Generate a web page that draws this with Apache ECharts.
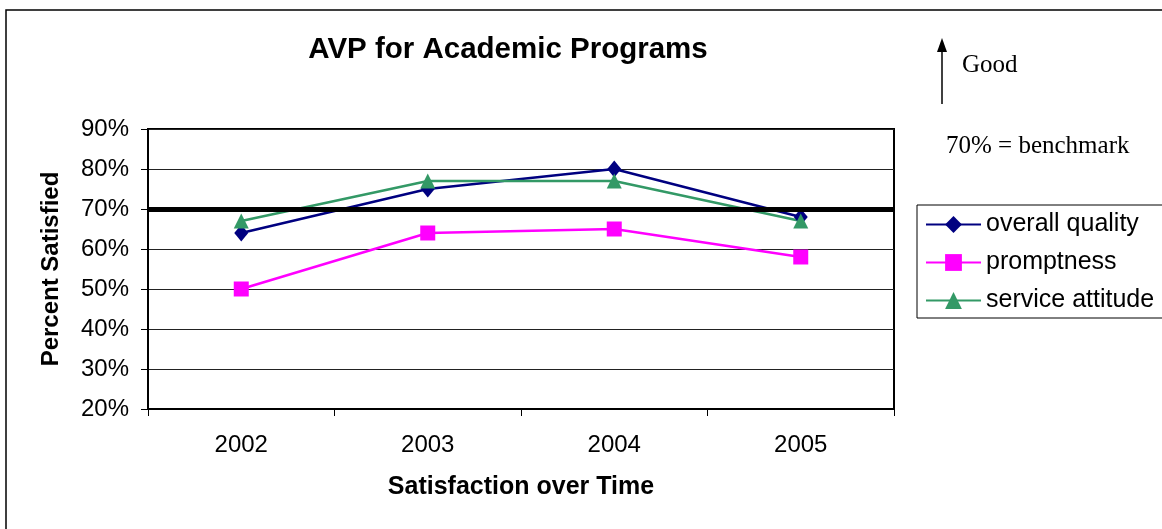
<!DOCTYPE html>
<html>
<head>
<meta charset="utf-8">
<script src="https://cdn.jsdelivr.net/npm/echarts@6/dist/echarts.min.js"></script>
<style>
  html, body { margin: 0; padding: 0; background: #fff; }
  #main { width: 1162px; height: 529px; }
</style>
</head>
<body>
<div id="main"></div>
<script>
// data
const years = ["2002", "2003", "2004", "2005"];
const overallQuality = [64, 75, 80, 68];
const promptness = [50, 64, 65, 58];
const serviceAttitude = [67, 77, 77, 67];
const benchmark = 70;

const chart = echarts.init(document.getElementById("main"));

const sans = "Arial, Liberation Sans";
const serif = "'Liberation Serif', 'Times New Roman', serif";

const option = {
  animation: false,
  backgroundColor: "#fff",
  title: {
    text: "AVP for Academic Programs",
    left: 503,
    top: 30,
    textAlign: "center",
    textStyle: { fontFamily: sans, fontSize: 29.5, fontWeight: "bold", color: "#000" },
  },
  legend: {
    orient: "vertical",
    left: 917,
    top: 205,
    padding: [7, 40, 5, 8],
    itemGap: 13,
    itemWidth: 55,
    itemHeight: 21,
    borderColor: "#000",
    borderWidth: 1,
    textStyle: { fontFamily: sans, fontSize: 25, color: "#000" },
    data: ["overall quality", "promptness", "service attitude"],
  },
  grid: {
    left: 148,
    right: 1162 - 894,
    top: 129,
    bottom: 529 - 409,
    show: true,
    borderColor: "#000",
    borderWidth: 2,
  },
  xAxis: {
    type: "category",
    data: years,
    boundaryGap: true,
    name: "Satisfaction over Time",
    nameLocation: "middle",
    nameGap: 66,
    nameTextStyle: { fontFamily: sans, fontSize: 25, fontWeight: "bold", color: "#000" },
    axisLine: { lineStyle: { color: "#000", width: 2 } },
    axisTick: { show: true, length: 7, lineStyle: { color: "#000" } },
    axisLabel: { fontFamily: sans, fontSize: 24, color: "#000", margin: 24 },
  },
  yAxis: {
    type: "value",
    min: 20,
    max: 90,
    interval: 10,
    name: "Percent Satisfied",
    nameLocation: "middle",
    nameGap: 85,
    nameTextStyle: { fontFamily: sans, fontSize: 24, fontWeight: "bold", color: "#000" },
    axisLine: { show: true, lineStyle: { color: "#000", width: 2 } },
    axisTick: { show: true, length: 7, lineStyle: { color: "#000" } },
    axisLabel: { formatter: "{value}%", fontFamily: sans, fontSize: 24, color: "#000", margin: 19 },
    splitLine: { show: true, lineStyle: { color: "#222", width: 1 } },
  },
  series: [
    {
      name: "overall quality",
      type: "line",
      data: overallQuality,
      symbol: "diamond",
      symbolSize: [14, 17],
      color: "#000080",
      lineStyle: { width: 2.5, color: "#000080" },
      z: 3,
      markLine: {
        silent: true,
        symbol: "none",
        label: { show: false },
        lineStyle: { color: "#000", width: 5, type: "solid" },
        data: [{ yAxis: benchmark }],
      },
    },
    {
      name: "promptness",
      type: "line",
      data: promptness,
      symbol: "rect",
      symbolSize: 15,
      color: "#FF00FF",
      lineStyle: { width: 2.5, color: "#FF00FF" },
    },
    {
      name: "service attitude",
      type: "line",
      data: serviceAttitude,
      symbol: "triangle",
      symbolSize: 15,
      color: "#339966",
      lineStyle: { width: 2.5, color: "#339966" },
    },
  ],
  graphic: [
    {
      type: "rect",
      shape: { x: 6, y: 10, width: 1300, height: 700 },
      style: { fill: "none", stroke: "#000", lineWidth: 1.5 },
      silent: true,
    },
    {
      type: "line",
      shape: { x1: 942, y1: 104, x2: 942, y2: 50 },
      style: { stroke: "#000", lineWidth: 1.5 },
    },
    {
      type: "polygon",
      shape: { points: [[942, 38], [937, 52], [947, 52]] },
      style: { fill: "#000" },
    },
    {
      type: "text",
      left: 962,
      top: 53,
      style: { text: "Good", font: "25px " + serif, fill: "#000" },
    },
    {
      type: "text",
      left: 946,
      top: 134,
      style: { text: "70% = benchmark", font: "25px " + serif, fill: "#000" },
    },
  ],
};

chart.setOption(option);
</script>
</body>
</html>
